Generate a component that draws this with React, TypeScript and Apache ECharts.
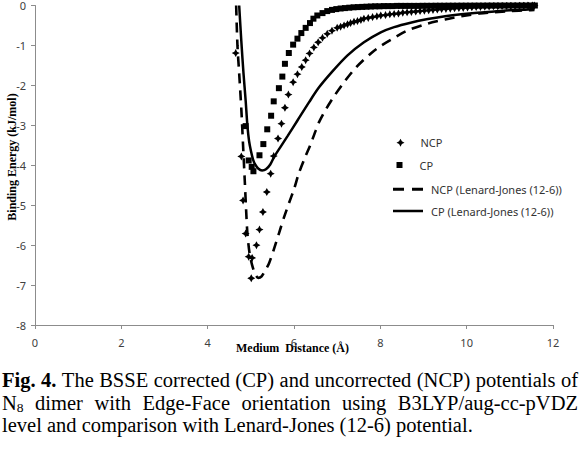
import React, { useEffect, useRef } from "react";
import * as echarts from "echarts";

// ---------- data ----------
const seriesNames = ["NCP", "CP", "NCP (Lenard-Jones (12-6))", "CP (Lenard-Jones (12-6))"];

const ncpX = [4.65, 4.78, 4.82, 4.88, 4.95, 5.01, 5.03, 5.13, 5.2, 5.28, 5.37, 5.46, 5.53, 5.63, 5.71, 5.79, 5.87, 5.98, 6.08, 6.18, 6.27, 6.36, 6.46, 6.56, 6.66, 6.77, 6.88, 7.0, 7.08, 7.16, 7.24, 7.31, 7.39, 7.47, 7.55, 7.62, 7.72, 7.82, 7.92, 8.01, 8.12, 8.22, 8.32, 8.42, 8.52, 8.62, 8.72, 8.82, 8.92, 9.02, 9.12, 9.22, 9.32, 9.42, 9.52, 9.62, 9.72, 9.82, 9.92, 10.02, 10.12, 10.22, 10.32, 10.42, 10.52, 10.62, 10.72, 10.82, 10.92, 11.02, 11.12, 11.22, 11.32, 11.42, 11.52, 11.57];
const ncpY = [-1.19, -3.78, -4.88, -5.71, -6.29, -6.83, -6.32, -6.0, -5.61, -5.17, -4.67, -4.21, -3.77, -3.33, -2.96, -2.56, -2.23, -1.92, -1.72, -1.54, -1.37, -1.2, -1.05, -0.92, -0.81, -0.71, -0.63, -0.56, -0.53, -0.5, -0.47, -0.44, -0.41, -0.39, -0.36, -0.33, -0.31, -0.29, -0.27, -0.25, -0.24, -0.22, -0.21, -0.2, -0.18, -0.17, -0.16, -0.15, -0.14, -0.13, -0.12, -0.11, -0.1, -0.09, -0.085, -0.08, -0.07, -0.065, -0.06, -0.05, -0.045, -0.04, -0.035, -0.03, -0.025, -0.02, -0.02, -0.015, -0.015, -0.01, -0.01, -0.005, -0.005, 0, 0, 0];

const cpX = [4.88, 4.95, 5.02, 5.06, 5.2, 5.29, 5.38, 5.47, 5.53, 5.65, 5.73, 5.79, 5.88, 5.98, 6.08, 6.17, 6.27, 6.37, 6.45, 6.54, 6.66, 6.77, 6.88, 6.98, 7.08, 7.18, 7.28, 7.38, 7.48, 7.58, 7.68, 7.78, 7.88, 7.98, 8.08, 8.18, 8.28, 8.38, 8.48, 8.58, 8.68, 8.78, 8.88, 8.98, 9.08, 9.18, 9.28, 9.38, 9.48, 9.58, 9.68, 9.78, 9.88, 9.98, 10.08, 10.18, 10.28, 10.38, 10.48, 10.58, 10.68, 10.78, 10.88, 10.98, 11.08, 11.18, 11.28, 11.38, 11.48, 11.58];
const cpY = [-3.02, -3.88, -4.04, -4.15, -3.75, -3.47, -3.1, -2.76, -2.4, -2.07, -1.78, -1.46, -1.19, -0.98, -0.83, -0.69, -0.56, -0.44, -0.33, -0.25, -0.19, -0.14, -0.11, -0.09, -0.075, -0.065, -0.055, -0.045, -0.04, -0.035, -0.03, -0.025, -0.02, -0.02, -0.015, -0.015, -0.015, -0.01, -0.01, -0.01, -0.01, -0.01, -0.01, -0.008, -0.008, -0.008, -0.006, -0.006, -0.006, -0.005, -0.005, -0.005, -0.004, -0.004, -0.004, -0.003, -0.003, -0.003, -0.002, -0.002, -0.002, -0.002, -0.001, -0.001, -0.001, -0.001, 0, 0, 0, 0];

const ljNcpX = [4.66, 4.69, 4.73, 4.78, 4.82, 4.86, 4.89, 4.92, 4.97, 5.03, 5.1, 5.17, 5.25, 5.35, 5.42, 5.53, 5.65, 5.77, 5.88, 6.0, 6.11, 6.25, 6.39, 6.5, 6.58, 6.75, 6.93, 7.16, 7.43, 7.78, 8.0, 8.24, 8.6, 9.1, 9.5, 9.87, 10.3, 10.64, 11.0, 11.42, 11.57];
const ljNcpY = [0, -1.0, -1.7, -2.6, -3.5, -4.4, -5.1, -5.7, -6.2, -6.5, -6.72, -6.82, -6.78, -6.6, -6.46, -6.12, -5.71, -5.3, -4.96, -4.6, -4.21, -3.82, -3.46, -3.14, -2.92, -2.58, -2.27, -1.92, -1.56, -1.2, -1.02, -0.86, -0.64, -0.45, -0.35, -0.27, -0.2, -0.17, -0.14, -0.12, -0.11];

const ljCpX = [4.73, 4.78, 4.83, 4.88, 4.92, 4.96, 5.0, 5.05, 5.1, 5.17, 5.26, 5.35, 5.45, 5.54, 5.7, 5.85, 6.08, 6.35, 6.58, 6.85, 7.24, 7.62, 8.01, 8.32, 8.7, 9.1, 9.5, 9.87, 10.25, 10.64, 11.0, 11.42, 11.57];
const ljCpY = [0, -0.9, -1.7, -2.38, -3.0, -3.4, -3.63, -3.85, -3.98, -4.08, -4.13, -4.1, -3.98, -3.79, -3.52, -3.27, -2.88, -2.42, -2.05, -1.7, -1.25, -0.92, -0.67, -0.54, -0.43, -0.34, -0.27, -0.22, -0.18, -0.15, -0.12, -0.1, -0.09];

const xTitle = "Medium  Distance (Å)";
const yTitle = "Binding Energy (kJ/mol)";

const captionLine1 = [
  { t: "Fig.", b: true }, { t: "4.", b: true }, { t: "The" }, { t: "BSSE" }, { t: "corrected" },
  { t: "(CP)" }, { t: "and" }, { t: "uncorrected" }, { t: "(NCP)" }, { t: "potentials" }, { t: "of" },
];
const captionLine2 = [
  { t: "N", sub: "8" }, { t: "dimer" }, { t: "with" }, { t: "Edge-Face" }, { t: "orientation" },
  { t: "using" }, { t: "B3LYP/aug-cc-pVDZ" },
];
const captionLine3 = "level and comparison with Lenard-Jones (12-6) potential.";

const pairs = (xs: number[], ys: number[]) => xs.map((x, i) => [x, ys[i]]);

const SERIF = '"Liberation Serif", "Times New Roman", serif';
const SANS = '"Noto Sans", "Liberation Sans", sans-serif';
const CAP_SIZE = 20.5;
const SUB_SIZE = 13.5;

const STAR = "path://M4,0L5.4,2.6L8,4L5.4,5.4L4,8L2.6,5.4L0,4L2.6,2.6Z";
const SQUARE = "path://M0,0L1,0L1,1L0,1Z";
const DASH_ICON = "path://M0,0h11v3h-11zM19,0h11v3h-11z";
const SOLID_ICON = "path://M0,0h31v2.6h-31z";

function measure(text: string, size: number, bold?: boolean) {
  const c = document.createElement("canvas").getContext("2d")!;
  c.font = `${bold ? "bold " : ""}${size}px ${SERIF}`;
  return c.measureText(text).width;
}

function justifiedLine(words: any[], left: number, right: number, midY: number) {
  const widths = words.map((w) => {
    let wd = measure(w.t, CAP_SIZE, w.b);
    if (w.sub) wd += measure(w.sub, SUB_SIZE);
    return wd;
  });
  const total = widths.reduce((a, b) => a + b, 0);
  const gap = (right - left - total) / (words.length - 1);
  const els: any[] = [];
  let x = left;
  words.forEach((w, i) => {
    els.push({
      type: "text",
      x,
      y: midY,
      style: {
        text: w.t,
        font: `${w.b ? "bold " : ""}${CAP_SIZE}px ${SERIF}`,
        fill: "#000",
        textAlign: "left",
        textVerticalAlign: "middle",
      },
    });
    if (w.sub) {
      els.push({
        type: "text",
        x: x + measure(w.t, CAP_SIZE, w.b),
        y: midY + 5,
        style: {
          text: w.sub,
          font: `${SUB_SIZE}px ${SERIF}`,
          fill: "#000",
          textAlign: "left",
          textVerticalAlign: "middle",
        },
      });
    }
    x += widths[i] + gap;
  });
  return els;
}

function legendFor(name: string, icon: string, left: number, centerY: number, itemHeight: number, padLeft: number) {
  return {
    orient: "vertical",
    left,
    top: centerY - 7,
    itemWidth: 30,
    itemHeight,
    padding: 0,
    selectedMode: false,
    symbolKeepAspect: true,
    textStyle: { color: "#333", fontSize: 11, lineHeight: 14, fontFamily: SANS, padding: [0, 0, 0, padLeft] },
    data: [{ name, icon, itemStyle: { color: "#000", opacity: 1 } }],
  };
}

export default function App() {
  const ref = useRef<HTMLDivElement>(null);
  useEffect(() => {
    if (!ref.current) return;
    const chart = echarts.init(ref.current, undefined, { renderer: "svg" });
    const axisLabel = { color: "#404040", fontSize: 11, fontFamily: SANS };
    const option: any = {
      animation: false,
      backgroundColor: "#fff",
      grid: { left: 35, top: 5, width: 518, height: 320, containLabel: false },
      xAxis: {
        type: "value",
        min: 0,
        max: 12,
        interval: 2,
        splitLine: { show: false },
        axisLine: { show: true, onZero: false, lineStyle: { color: "#8c8c8c", width: 1 } },
        axisTick: { show: true, length: 4, lineStyle: { color: "#8c8c8c" } },
        axisLabel: { ...axisLabel, margin: 12 },
      },
      yAxis: {
        type: "value",
        min: -8,
        max: 0,
        interval: 1,
        splitLine: { show: false },
        axisLine: { show: true, onZero: false, lineStyle: { color: "#8c8c8c", width: 1 } },
        axisTick: { show: true, length: 4, lineStyle: { color: "#8c8c8c" } },
        axisLabel: { ...axisLabel, margin: 9 },
      },
      legend: [
        legendFor(seriesNames[0], STAR, 396.5, 142.7, 8, 0),
        legendFor(seriesNames[1], SQUARE, 396.5, 165, 6, 0),
        legendFor(seriesNames[2], DASH_ICON, 393, 189.3, 8, 3),
        legendFor(seriesNames[3], SOLID_ICON, 393, 211, 8, 3),
      ],
      series: [
        {
          name: seriesNames[0],
          type: "scatter",
          symbol: STAR,
          symbolSize: 8,
          itemStyle: { color: "#000", opacity: 1 },
          data: pairs(ncpX, ncpY),
          z: 3,
        },
        {
          name: seriesNames[1],
          type: "scatter",
          symbol: "rect",
          symbolSize: 6,
          itemStyle: { color: "#000", opacity: 1 },
          data: pairs(cpX, cpY),
          z: 3,
        },
        {
          name: seriesNames[2],
          type: "line",
          smooth: 0.3,
          showSymbol: false,
          symbol: "none",
          lineStyle: { color: "#000", width: 2.6, type: [10, 7] },
          itemStyle: { color: "#000" },
          data: pairs(ljNcpX, ljNcpY),
          z: 2,
        },
        {
          name: seriesNames[3],
          type: "line",
          smooth: 0.3,
          showSymbol: false,
          symbol: "none",
          lineStyle: { color: "#000", width: 2.5, type: "solid" },
          itemStyle: { color: "#000" },
          data: pairs(ljCpX, ljCpY),
          z: 2,
        },
      ],
      graphic: [
        {
          type: "text",
          x: 12,
          y: 157,
          rotation: Math.PI / 2,
          style: {
            text: yTitle,
            font: `bold 12px ${SERIF}`,
            fill: "#000",
            textAlign: "center",
            textVerticalAlign: "middle",
          },
        },
        {
          type: "text",
          x: 292.5,
          y: 348,
          style: {
            text: xTitle,
            font: `bold 12px ${SERIF}`,
            fill: "#000",
            textAlign: "center",
            textVerticalAlign: "middle",
          },
        },
        ...justifiedLine(captionLine1, 2, 578, 380),
        ...justifiedLine(captionLine2, 2, 578, 402.5),
        {
          type: "text",
          x: 2,
          y: 425,
          style: {
            text: captionLine3,
            font: `${CAP_SIZE}px ${SERIF}`,
            fill: "#000",
            textAlign: "left",
            textVerticalAlign: "middle",
          },
        },
      ],
    };
    chart.setOption(option);
    return () => chart.dispose();
  }, []);
  return (
    <div
      ref={ref}
      style={{ position: "fixed", left: 0, top: 0, width: 580, height: 450, background: "#fff" }}
    />
  );
}
